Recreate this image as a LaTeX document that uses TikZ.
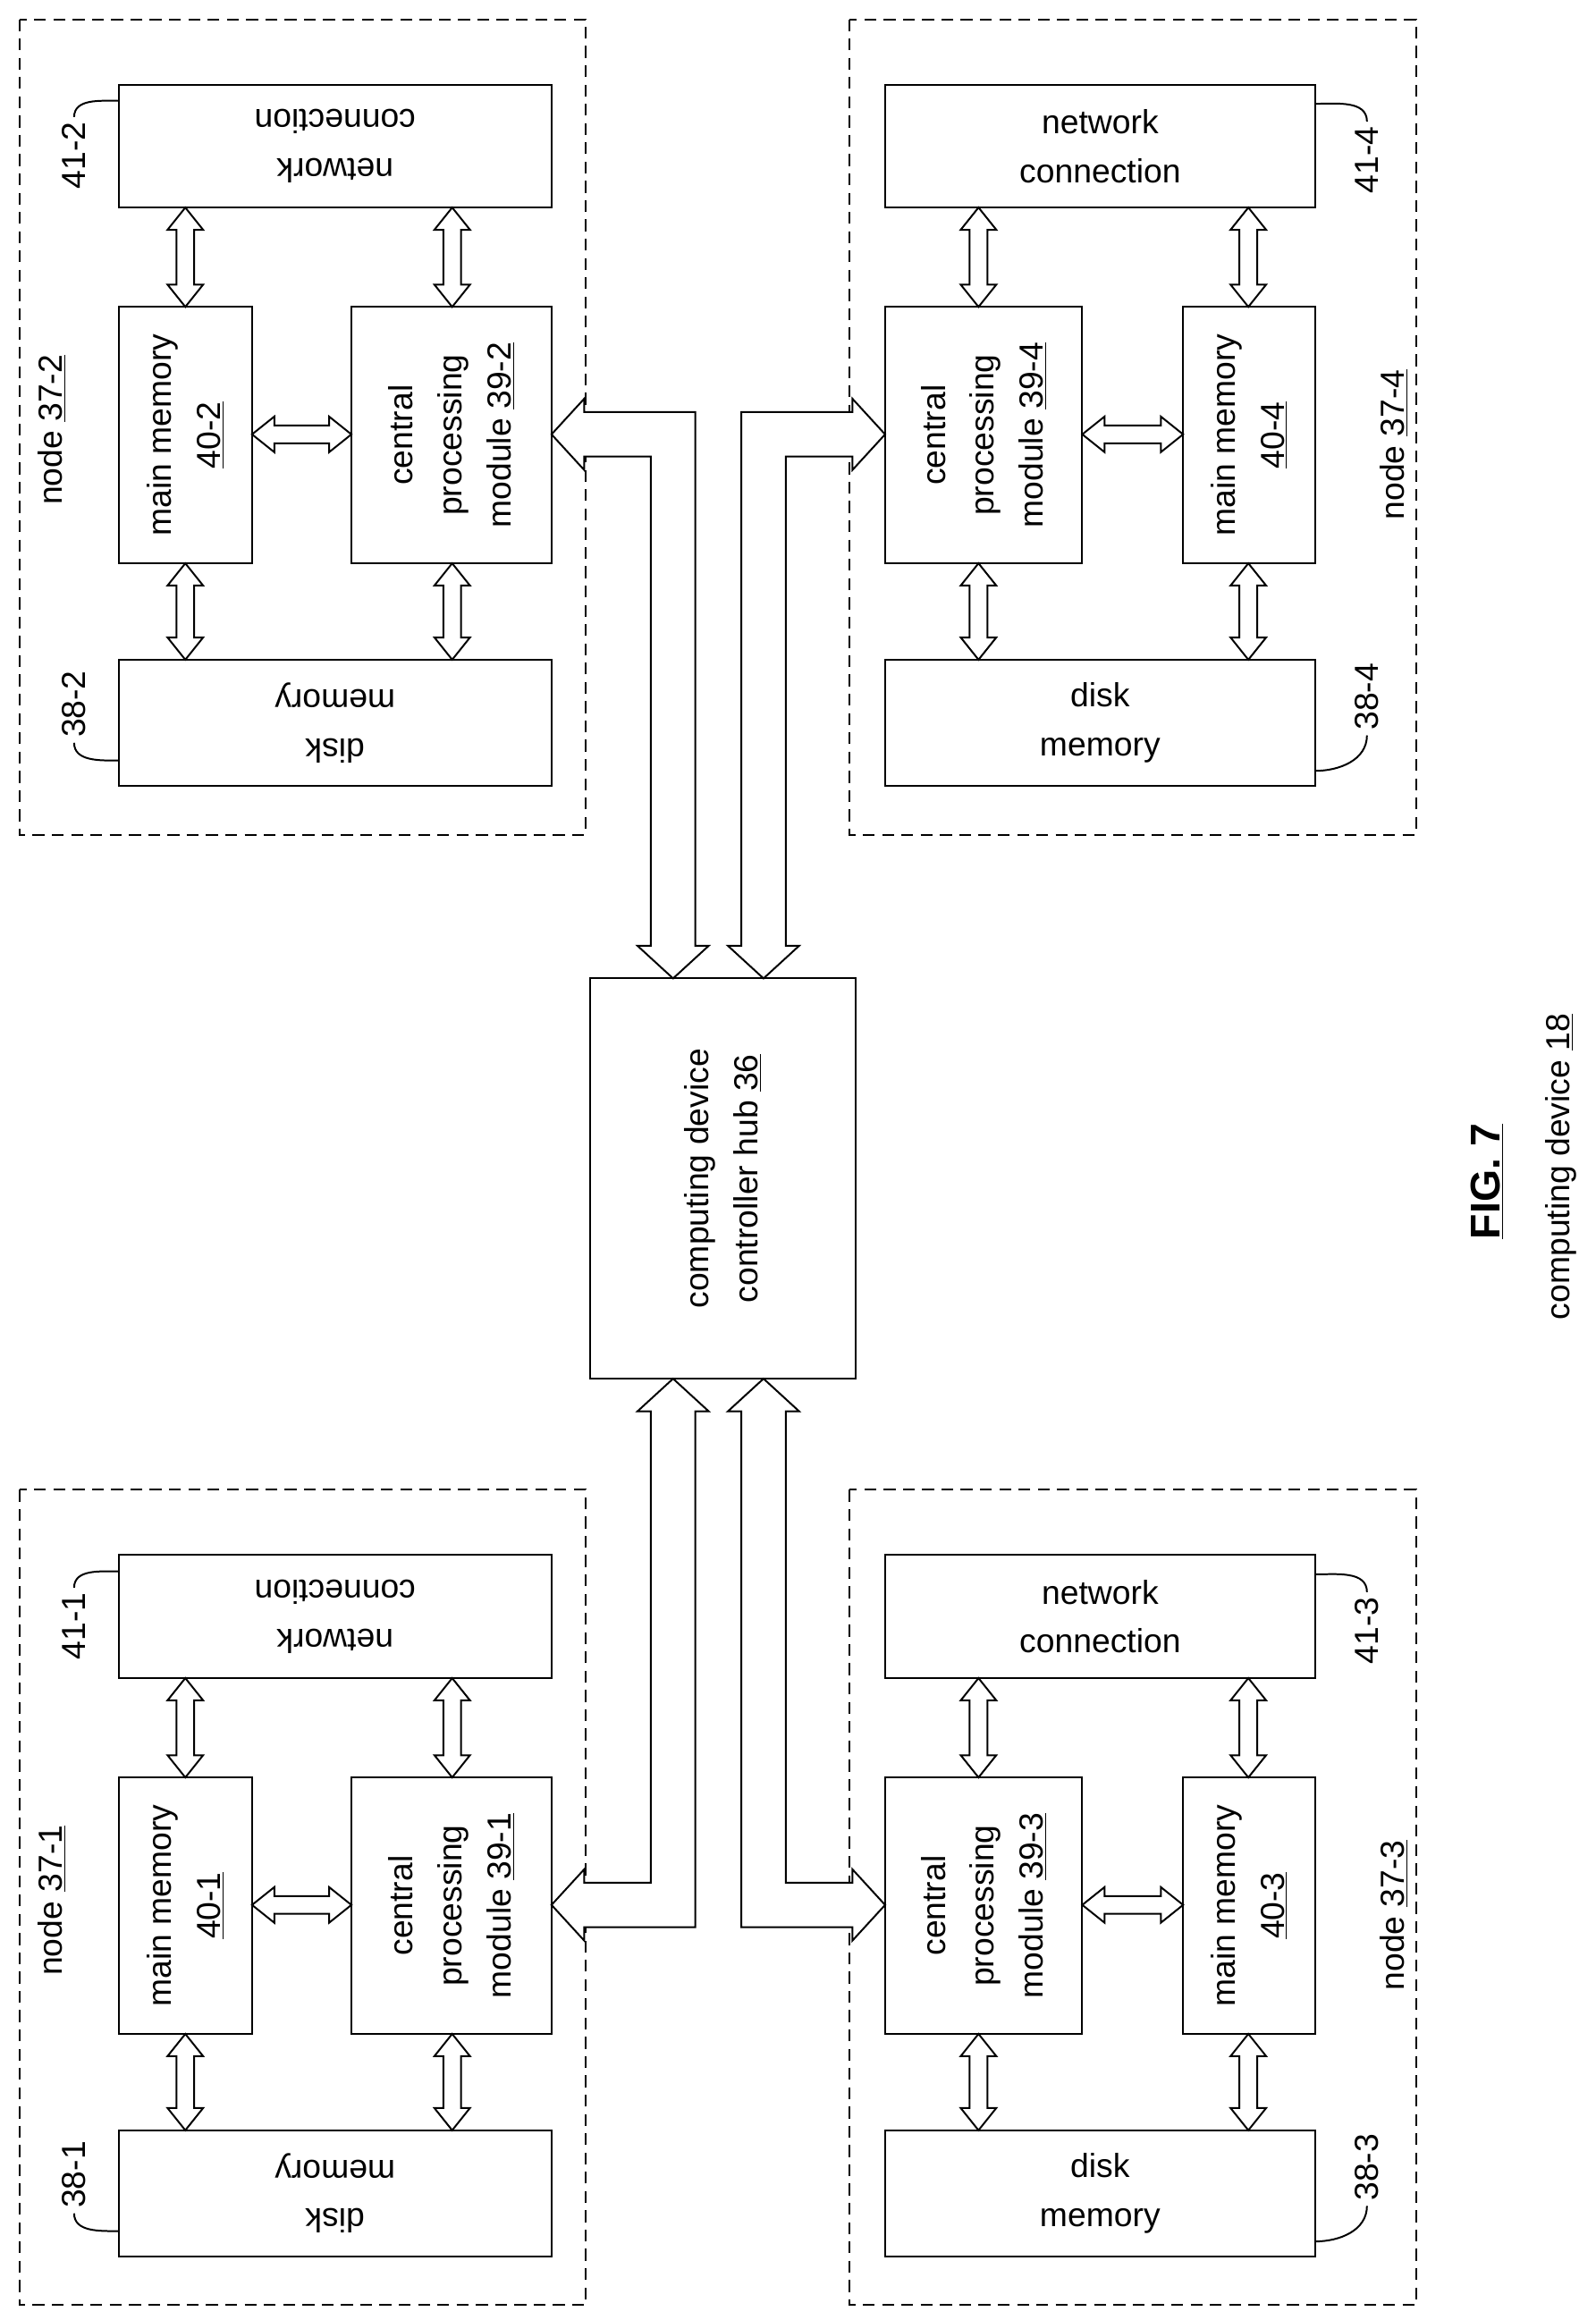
\documentclass[tikz,border=0pt]{standalone}
\usepackage{fontspec}
\setmainfont{Liberation Sans}
\begin{document}
\begin{tikzpicture}[x=1pt,y=-1pt,
  box/.style={draw,line width=1.2pt,inner sep=0pt},
  dbox/.style={draw,line width=1.2pt,dash pattern=on 8pt off 5pt},
  txt/.style={align=center,font=\fontsize{22.5}{33}\selectfont},
  arr/.style={draw,line width=1.2pt,fill=white,line join=miter},
  crv/.style={draw,line width=1.2pt}]
\useasboundingbox (0,0) rectangle (1076,1565);
\newcommand\myV[3]{\path[arr] (#1,#2) -- ({#1+12},{#2+15}) -- ({#1+6},{#2+15}) -- ({#1+6},{#3-15}) -- ({#1+12},{#3-15}) -- (#1,#3) -- ({#1-12},{#3-15}) -- ({#1-6},{#3-15}) -- ({#1-6},{#2+15}) -- ({#1-12},{#2+15}) -- cycle;}
\newcommand\myH[3]{\path[arr] (#2,#1) -- ({#2+15},{#1-12}) -- ({#2+15},{#1-6}) -- ({#3-15},{#1-6}) -- ({#3-15},{#1-12}) -- (#3,#1) -- ({#3-15},{#1+12}) -- ({#3-15},{#1+6}) -- ({#2+15},{#1+6}) -- ({#2+15},{#1+12}) -- cycle;}
\newcommand\leftgroup[2]{%
\begin{scope}[shift={(0,#1)}]
\draw[dbox] (13,13) rectangle (395,563);
\node[box,minimum width=292pt,minimum height=83pt] (nc#2) at (226,98.5) {};
\node[txt,rotate=180] at (nc#2) {network\\connection};
\node[box,minimum width=90pt,minimum height=173pt] (mm#2) at (125,293.5) {};
\node[txt,rotate=90] at (mm#2) {main memory\\\underline{40-#2}};
\node[box,minimum width=135pt,minimum height=173pt] (cp#2) at (304.5,293.5) {};
\node[txt,rotate=90] at (cp#2) {central\\processing\\module \underline{39-#2}};
\node[box,minimum width=292pt,minimum height=85pt] (dm#2) at (226,487.5) {};
\node[txt,rotate=180] at (dm#2) {disk\\memory};
\myV{125}{140}{207}\myV{305}{140}{207}\myH{293}{170}{237}\myV{125}{380}{445}\myV{305}{380}{445}
\node[txt,rotate=90] (nl#2) at (35,290) {node \underline{37-#2}};
\node[txt,rotate=90] (la#2) at (50,105) {41-#2};
\node[txt,rotate=90] (lb#2) at (50,475) {38-#2};
\draw[crv] (la#2.east) to[out=90,in=180] (80,68);
\draw[crv] (lb#2.west) to[out=-90,in=180] (80,513);
\end{scope}}
\newcommand\rightgroup[2]{%
\begin{scope}[shift={(0,#1)}]
\draw[dbox] (573,13) rectangle (955,563);
\node[box,minimum width=290pt,minimum height=83pt] (nc#2) at (742,98.5) {};
\node[txt] at (nc#2) {network\\connection};
\node[box,minimum width=133pt,minimum height=173pt] (cp#2) at (663.5,293.5) {};
\node[txt,rotate=90] at (cp#2) {central\\processing\\module \underline{39-#2}};
\node[box,minimum width=89pt,minimum height=173pt] (mm#2) at (842.5,293.5) {};
\node[txt,rotate=90] at (mm#2) {main memory\\\underline{40-#2}};
\node[box,minimum width=290pt,minimum height=85pt] (dm#2) at (742,487.5) {};
\node[txt] at (dm#2) {disk\\memory};
\myV{660}{140}{207}\myV{842}{140}{207}\myH{293}{730}{798}\myV{660}{380}{445}\myV{842}{380}{445}
\node[txt,rotate=90] (nl#2) at (940,300) {node \underline{37-#2}};
\node[txt,rotate=90] (la#2) at (922,108) {41-#2};
\node[txt,rotate=90] (lb#2) at (922,470) {38-#2};
\draw[crv] (887,70) to[out=0,in=90] (la#2.east);
\draw[crv] (lb#2.west) to[out=-90,in=0] (887,520);
\end{scope}}
\leftgroup{0}{2}
\leftgroup{992}{1}
\rightgroup{0}{4}
\rightgroup{992}{3}
\node[box,minimum width=179pt,minimum height=270pt] (hub) at (487.5,795) {};
\node[txt,rotate=90] at (hub) {computing device\\controller hub \underline{36}};
% big L arrows (shaft half width 15, head half width 24, head length 22)
\path[arr] (372,293) -- (394,269) -- (394,278) -- (469,278) -- (469,638) -- (478,638) -- (454,660) -- (430,638) -- (439,638) -- (439,308) -- (394,308) -- (394,317) -- cycle;
\path[arr] (515,660) -- (491,638) -- (500,638) -- (500,278) -- (575,278) -- (575,269) -- (597,293) -- (575,317) -- (575,308) -- (530,308) -- (530,638) -- (539,638) -- cycle;
\path[arr] (454,930) -- (478,952) -- (469,952) -- (469,1300) -- (394,1300) -- (394,1309) -- (372,1285) -- (394,1261) -- (394,1270) -- (439,1270) -- (439,952) -- (430,952) -- cycle;
\path[arr] (515,930) -- (539,952) -- (530,952) -- (530,1270) -- (575,1270) -- (575,1261) -- (597,1285) -- (575,1309) -- (575,1300) -- (500,1300) -- (500,952) -- (491,952) -- cycle;
\node[rotate=90,font=\fontsize{28}{30}\selectfont\bfseries] (fig) at (1003,797) {\underline{FIG. 7}};
\node[txt,rotate=90] (cd) at (1053,787) {computing device \underline{18}};
\end{tikzpicture}
\end{document}
